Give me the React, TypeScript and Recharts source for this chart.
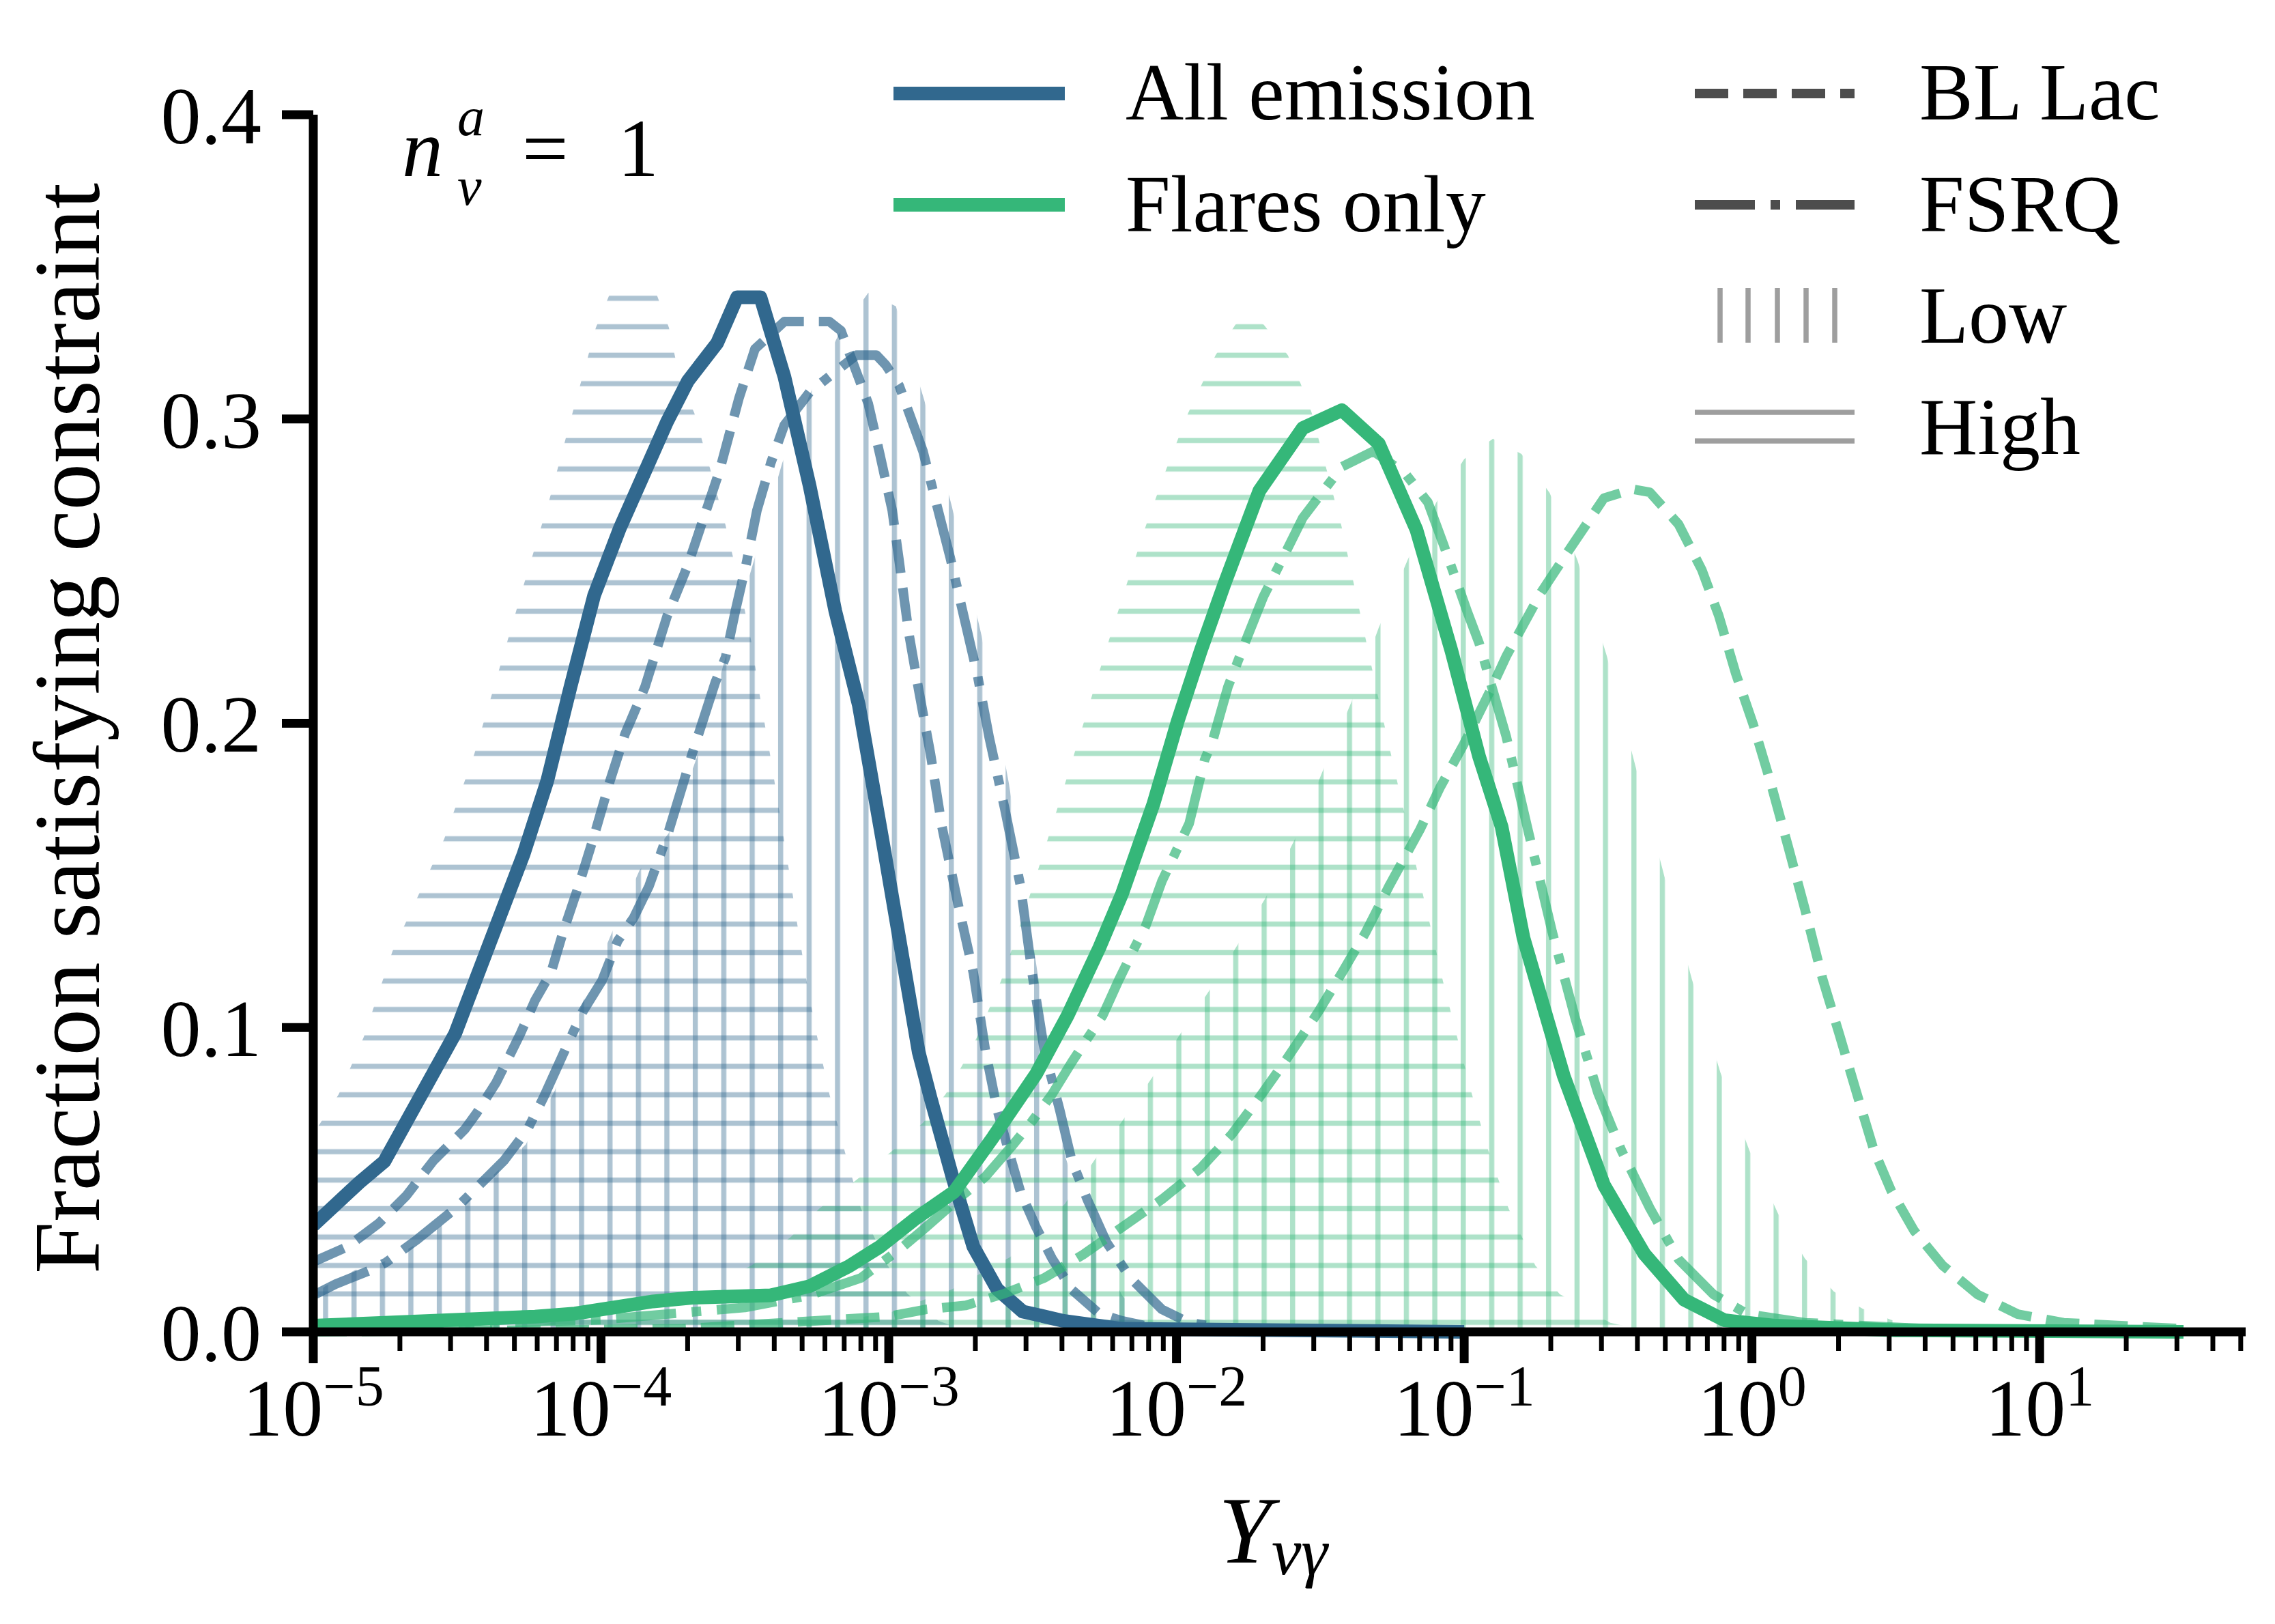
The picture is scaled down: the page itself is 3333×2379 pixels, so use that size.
import React from "react";
import { ComposedChart, Line, Area, XAxis, YAxis, Legend } from "recharts";

const FONT = '"Liberation Serif", "DejaVu Serif", serif';
const BLUE = "#31688e";
const GREEN = "#35b779";
const LEGEND_DARK = "#4d4d4d";
const LEGEND_GRAY = "#9e9e9e";

// hatch grid (px) taken from the figure
const HATCH = 41.67;
const H_OFFSET = 20.3;
const V_OFFSET = 18.6;
const HATCH_W = 7.5;

// ---- data: log10(Y_nu_gamma) positions and the fraction read at each ----

// All emission, all sources (solid blue)
const allTotalLogY = [-5, -4.841, -4.753, -4.507, -4.269, -4.187, -4.106, -4.024, -3.935, -3.771, -3.698, -3.596, -3.527, -3.446, -3.363, -3.275, -3.186, -3.104, -3.017, -2.896, -2.855, -2.779, -2.706, -2.623, -2.535, -2.393, -2.189, -1.0];
const allTotalFrac = [0.035, 0.049, 0.056, 0.098, 0.157, 0.181, 0.212, 0.242, 0.264, 0.299, 0.3125, 0.325, 0.34, 0.34, 0.314, 0.278, 0.237, 0.206, 0.159, 0.092, 0.077, 0.051, 0.028, 0.014, 0.0067, 0.0036, 0.001, 0];

// All emission, BL Lac (dashed blue)
const allBlLacLogY = [-5, -4.881, -4.772, -4.677, -4.582, -4.473, -4.433, -4.364, -4.282, -4.229, -4.174, -4.133, -4.078, -4.024, -3.969, -3.916, -3.847, -3.771, -3.698, -3.643, -3.588, -3.52, -3.465, -3.363, -3.206, -3.166, -3.071, -3.03, -2.988, -2.964, -2.931, -2.896, -2.855, -2.815, -2.76, -2.706, -2.664, -2.623, -2.582, -2.542, -2.488, -2.433, -2.364, -2.269, -2.189, -2.056, -1.0];
const allBlLacFrac = [0.023, 0.028, 0.0357, 0.0447, 0.0563, 0.0666, 0.0718, 0.082, 0.0976, 0.109, 0.118, 0.131, 0.1465, 0.163, 0.181, 0.1966, 0.212, 0.235, 0.252, 0.2675, 0.283, 0.307, 0.323, 0.332, 0.332, 0.329, 0.305, 0.288, 0.27, 0.2535, 0.23, 0.211, 0.19, 0.166, 0.141, 0.118, 0.0924, 0.073, 0.059, 0.046, 0.0344, 0.0242, 0.0139, 0.006, 0.0036, 0.001, 0];

// All emission, FSRQ (dash-dot blue)
const allFsrqLogY = [-5, -4.922, -4.801, -4.746, -4.637, -4.5, -4.433, -4.337, -4.255, -4.2, -4.12, -4.065, -3.996, -3.942, -3.887, -3.833, -3.765, -3.683, -3.603, -3.567, -3.534, -3.494, -3.458, -3.41, -3.363, -3.275, -3.166, -3.112, -3.043, -3.01, -2.964, -2.881, -2.787, -2.692, -2.651, -2.597, -2.542, -2.502, -2.459, -2.406, -2.364, -2.31, -2.243, -2.16, -2.051, -1.956, -1.82, -1.0];
const allFsrqFrac = [0.012, 0.0157, 0.0203, 0.0229, 0.0305, 0.041, 0.0473, 0.0563, 0.0666, 0.077, 0.0937, 0.105, 0.1155, 0.1285, 0.136, 0.1465, 0.1645, 0.19, 0.2134, 0.2217, 0.2365, 0.253, 0.27, 0.2855, 0.298, 0.3088, 0.317, 0.321, 0.321, 0.3177, 0.311, 0.2894, 0.2547, 0.216, 0.1954, 0.172, 0.1465, 0.118, 0.0924, 0.073, 0.0563, 0.0435, 0.0294, 0.0177, 0.0074, 0.003, 0.001, 0];

// Flares only, all sources (solid green)
const flareTotalLogY = [-5, -4.229, -4.091, -3.819, -3.683, -3.41, -3.275, -3.139, -3.03, -2.91, -2.773, -2.637, -2.488, -2.378, -2.269, -2.189, -2.08, -1.996, -1.916, -1.834, -1.712, -1.561, -1.425, -1.297, -1.166, -1.044, -0.948, -0.87, -0.794, -0.654, -0.514, -0.374, -0.235, -0.095, 0.084, 0.5, 1.5];
const flareTotalFrac = [0.002, 0.005, 0.006, 0.01, 0.0112, 0.012, 0.015, 0.0215, 0.028, 0.037, 0.046, 0.064, 0.0847, 0.104, 0.126, 0.144, 0.1735, 0.2006, 0.2237, 0.2456, 0.2764, 0.297, 0.3029, 0.2919, 0.2636, 0.2237, 0.189, 0.166, 0.1295, 0.0841, 0.0482, 0.0256, 0.0105, 0.0038, 0.002, 0.0005, 0];

// Flares only, BL Lac (dashed green)
const flareBlLacLogY = [-5, -3.717, -3.005, -2.87, -2.732, -2.597, -2.459, -2.324, -2.189, -2.051, -1.916, -1.807, -1.712, -1.616, -1.508, -1.425, -1.344, -1.261, -1.154, -1.085, -1.002, -0.908, -0.854, -0.734, -0.635, -0.514, -0.414, -0.355, -0.255, -0.174, -0.115, -0.056, 0.005, 0.065, 0.125, 0.184, 0.245, 0.305, 0.364, 0.424, 0.484, 0.564, 0.663, 0.784, 0.924, 1.083, 1.282, 1.5];
const flareBlLacFrac = [0, 0.001, 0.005, 0.0074, 0.0087, 0.0126, 0.0177, 0.0254, 0.0344, 0.0435, 0.0538, 0.065, 0.077, 0.0898, 0.105, 0.118, 0.131, 0.1465, 0.165, 0.1787, 0.193, 0.211, 0.222, 0.2428, 0.257, 0.274, 0.2769, 0.2759, 0.2654, 0.2504, 0.2353, 0.2163, 0.1995, 0.1805, 0.1598, 0.139, 0.1162, 0.0974, 0.0785, 0.0597, 0.0464, 0.0332, 0.0218, 0.0123, 0.0058, 0.003, 0.002, 0.001];

// Flares only, FSRQ (dash-dot green)
const flareFsrqLogY = [-5, -4.0, -3.5, -3.275, -3.097, -2.95, -2.87, -2.746, -2.664, -2.568, -2.502, -2.433, -2.364, -2.31, -2.256, -2.201, -2.147, -2.106, -2.051, -1.956, -1.902, -1.875, -1.821, -1.752, -1.698, -1.616, -1.561, -1.52, -1.425, -1.316, -1.206, -1.126, -1.071, -0.989, -0.948, -0.854, -0.775, -0.694, -0.614, -0.535, -0.454, -0.355, -0.255, -0.134, -0.015, 0.184, 0.6, 1.5];
const flareFsrqFrac = [0.001, 0.004, 0.008, 0.012, 0.0177, 0.028, 0.0344, 0.0447, 0.051, 0.0615, 0.0692, 0.078, 0.0886, 0.0963, 0.104, 0.1155, 0.126, 0.1336, 0.148, 0.167, 0.188, 0.194, 0.212, 0.2288, 0.2416, 0.257, 0.2675, 0.2726, 0.2843, 0.2894, 0.2822, 0.2726, 0.2585, 0.2366, 0.2263, 0.1957, 0.1636, 0.1314, 0.103, 0.0785, 0.0597, 0.0407, 0.0238, 0.0123, 0.0058, 0.003, 0.001, 0];

// All emission, high (horizontal hatch, blue)
const allHighLogY = [-5, -4.912, -4.824, -4.725, -4.637, -4.545, -4.44, -4.353, -4.267, -4.178, -4.099, -4.044, -4.018, -3.97, -3.807, -3.764, -3.724, -3.676, -3.622, -3.567, -3.52, -3.479, -3.448, -3.413, -3.381, -3.349, -3.318, -3.285, -3.249, -3.206, -3.152, -3.097, -3.005, -2.936, -2.827, -2.72];
const allHighFrac = [0.065, 0.078, 0.097, 0.125, 0.143, 0.162, 0.19, 0.218, 0.246, 0.274, 0.302, 0.321, 0.33, 0.341, 0.341, 0.33, 0.312, 0.302, 0.284, 0.265, 0.246, 0.2275, 0.209, 0.19, 0.1715, 0.153, 0.134, 0.115, 0.097, 0.078, 0.059, 0.0406, 0.022, 0.0126, 0.0036, 0];

// All emission, low (vertical hatch, blue)
const allLowLogY = [-5, -4.957, -4.855, -4.759, -4.657, -4.561, -4.459, -4.364, -4.262, -4.16, -4.065, -3.963, -3.866, -3.765, -3.667, -3.567, -3.47, -3.37, -3.275, -3.173, -3.071, -2.975, -2.876, -2.78, -2.677, -2.582, -2.483, -2.388, -2.288, -2.189, -2.08];
const allLowFrac = [0.012, 0.0151, 0.0203, 0.0229, 0.028, 0.0344, 0.0435, 0.0525, 0.0615, 0.0794, 0.108, 0.131, 0.1517, 0.1638, 0.1887, 0.2217, 0.253, 0.2856, 0.308, 0.328, 0.3415, 0.337, 0.306, 0.271, 0.2286, 0.18, 0.118, 0.058, 0.03, 0.012, 0];

// Flares only, high (horizontal hatch, green)
const flareHighLogY = [-4.31, -4.172, -3.669, -3.477, -3.342, -3.24, -3.114, -2.991, -2.881, -2.803, -2.746, -2.694, -2.61, -2.542, -2.478, -2.416, -2.355, -2.294, -2.234, -2.172, -2.106, -2.035, -1.959, -1.864, -1.795, -1.747, -1.697, -1.613, -1.568, -1.53, -1.479, -1.427, -1.384, -1.342, -1.3, -1.255, -1.21, -1.166, -1.119, -1.074, -1.024, -0.973, -0.915, -0.846, -0.753, -0.668, -0.492, -0.35];
const flareHighFrac = [0, 0.003, 0.0124, 0.0218, 0.031, 0.0406, 0.0498, 0.0592, 0.0687, 0.078, 0.0873, 0.0967, 0.1153, 0.134, 0.1527, 0.1714, 0.19, 0.209, 0.2275, 0.246, 0.265, 0.2836, 0.302, 0.321, 0.331, 0.334, 0.331, 0.321, 0.3115, 0.302, 0.2836, 0.265, 0.246, 0.2275, 0.209, 0.19, 0.1714, 0.1527, 0.134, 0.1153, 0.0967, 0.078, 0.0592, 0.0406, 0.0218, 0.0124, 0.003, 0];

// Flares only, low (vertical hatch, green)
const flareLowLogY = [-3.479, -3.005, -2.779, -2.579, -2.388, -2.284, -2.189, -2.085, -1.989, -1.887, -1.789, -1.69, -1.588, -1.494, -1.392, -1.297, -1.195, -1.097, -1.0, -0.9, -0.801, -0.703, -0.606, -0.504, -0.405, -0.305, -0.209, -0.109, -0.009, 0.091, 0.184, 0.284, 0.384, 0.484, 0.625, 0.75];
const flareLowFrac = [0, 0.006, 0.014, 0.0245, 0.042, 0.0566, 0.0692, 0.0835, 0.0976, 0.112, 0.127, 0.1427, 0.162, 0.1838, 0.207, 0.2314, 0.254, 0.2726, 0.2868, 0.2935, 0.2885, 0.2757, 0.2535, 0.222, 0.186, 0.15, 0.116, 0.0851, 0.0597, 0.0388, 0.0241, 0.0133, 0.0076, 0.0039, 0.001, 0];

// axis ticks
const yTicks = [0, 0.1, 0.2, 0.3, 0.4];
const decadeExponents = [-5, -4, -3, -2, -1, 0, 1];
const minorMultipliers = [2, 3, 4, 5, 6, 7, 8, 9];
const X_MIN = 1e-5;
const X_MAX = 52;

const toPoints = (logs: number[], fracs: number[]) =>
  logs.map((l, i) => ({ x: Math.pow(10, l), y: fracs[i] }));

const majorTicks = decadeExponents.map((e) => Math.pow(10, e));
const minorTicks: number[] = [];
decadeExponents.forEach((e) => {
  minorMultipliers.forEach((m) => {
    const v = m * Math.pow(10, e);
    if (v <= X_MAX) minorTicks.push(v);
  });
});
const xTicks = [...majorTicks, ...minorTicks].sort((a, b) => a - b);

const isMajor = (v: number) => {
  const l = Math.log10(v);
  return Math.abs(l - Math.round(l)) < 1e-6;
};

const XTick = (props: any) => {
  const { x, y, payload } = props;
  const v = payload.value as number;
  const major = isMajor(v);
  const exp = Math.round(Math.log10(v));
  return (
    <g>
      <line
        x1={x}
        x2={x}
        y1={y}
        y2={y + (major ? 46 : 28)}
        stroke="#000"
        strokeWidth={major ? 13 : 7}
      />
      {major && (
        <text x={x} y={y + 152} textAnchor="middle" fontSize={118} fontFamily={FONT} fill="#000">
          10
          <tspan dy={-44} fontSize={84}>
            {exp < 0 ? "\u2212" + Math.abs(exp) : String(exp)}
          </tspan>
        </text>
      )}
    </g>
  );
};

const DASHED = "49 22";
const DASH_DOT = "88 23 14 23";

const lines = [
  { id: "allBl", data: toPoints(allBlLacLogY, allBlLacFrac), color: BLUE, width: 14, opacity: 0.7, dash: DASHED },
  { id: "allFsrq", data: toPoints(allFsrqLogY, allFsrqFrac), color: BLUE, width: 14, opacity: 0.7, dash: DASH_DOT },
  { id: "allTotal", data: toPoints(allTotalLogY, allTotalFrac), color: BLUE, width: 20, opacity: 1, dash: undefined },
  { id: "flareBl", data: toPoints(flareBlLacLogY, flareBlLacFrac), color: GREEN, width: 14, opacity: 0.7, dash: DASHED },
  { id: "flareFsrq", data: toPoints(flareFsrqLogY, flareFsrqFrac), color: GREEN, width: 14, opacity: 0.7, dash: DASH_DOT },
  { id: "flareTotal", data: toPoints(flareTotalLogY, flareTotalFrac), color: GREEN, width: 20, opacity: 1, dash: undefined },
];

const areas = [
  { id: "allHigh", data: toPoints(allHighLogY, allHighFrac), fill: "url(#hatchBlueHigh)" },
  { id: "allLow", data: toPoints(allLowLogY, allLowFrac), fill: "url(#hatchBlueLow)" },
  { id: "flareHigh", data: toPoints(flareHighLogY, flareHighFrac), fill: "url(#hatchGreenHigh)" },
  { id: "flareLow", data: toPoints(flareLowLogY, flareLowFrac), fill: "url(#hatchGreenLow)" },
];

const LegendGraphic = () => (
  <svg width={3333} height={720} style={{ position: "absolute", left: 0, top: 0 }}>
    <line x1={1309} x2={1560} y1={137} y2={137} stroke={BLUE} strokeWidth={20} />
    <line x1={1309} x2={1560} y1={300} y2={300} stroke={GREEN} strokeWidth={20} />
    <text x={1649} y={175} fontSize={118} fontFamily={FONT}>All emission</text>
    <text x={1649} y={339} fontSize={118} fontFamily={FONT}>Flares only</text>

    <line x1={2483} x2={2717} y1={137} y2={137} stroke={LEGEND_DARK} strokeWidth={14} strokeDasharray={DASHED} />
    <line x1={2483} x2={2717} y1={300} y2={300} stroke={LEGEND_DARK} strokeWidth={14} strokeDasharray={DASH_DOT} />
    {[2520, 2561, 2604, 2646, 2688].map((lx) => (
      <line key={lx} x1={lx} x2={lx} y1={422} y2={502} stroke={LEGEND_GRAY} strokeWidth={HATCH_W} />
    ))}
    <line x1={2483} x2={2717} y1={604} y2={604} stroke={LEGEND_GRAY} strokeWidth={HATCH_W} />
    <line x1={2483} x2={2717} y1={646} y2={646} stroke={LEGEND_GRAY} strokeWidth={HATCH_W} />
    <text x={2812} y={175} fontSize={118} fontFamily={FONT}>BL Lac</text>
    <text x={2812} y={339} fontSize={118} fontFamily={FONT}>FSRQ</text>
    <text x={2812} y={502} fontSize={118} fontFamily={FONT}>Low</text>
    <text x={2812} y={665} fontSize={118} fontFamily={FONT}>High</text>
  </svg>
);

export default function App() {
  return (
    <div style={{ position: "absolute", left: 0, top: 0, width: 3333, height: 2379, background: "#fff" }}>
      <ComposedChart width={3333} height={2379} margin={{ top: 168, right: 43, left: 0, bottom: 0 }}>
        <defs>
          <pattern id="hatchBlueHigh" patternUnits="userSpaceOnUse" x={0} y={0} width={3333} height={HATCH}>
            <rect x={0} y={H_OFFSET - HATCH_W / 2} width={3333} height={HATCH_W} fill={BLUE} fillOpacity={0.4} />
          </pattern>
          <pattern id="hatchGreenHigh" patternUnits="userSpaceOnUse" x={0} y={0} width={3333} height={HATCH}>
            <rect x={0} y={H_OFFSET - HATCH_W / 2} width={3333} height={HATCH_W} fill={GREEN} fillOpacity={0.4} />
          </pattern>
          <pattern id="hatchBlueLow" patternUnits="userSpaceOnUse" x={0} y={0} width={HATCH} height={2379}>
            <rect x={V_OFFSET - HATCH_W / 2} y={0} width={HATCH_W} height={2379} fill={BLUE} fillOpacity={0.4} />
          </pattern>
          <pattern id="hatchGreenLow" patternUnits="userSpaceOnUse" x={0} y={0} width={HATCH} height={2379}>
            <rect x={V_OFFSET - HATCH_W / 2} y={0} width={HATCH_W} height={2379} fill={GREEN} fillOpacity={0.4} />
          </pattern>
        </defs>
        <XAxis
          dataKey="x"
          type="number"
          scale="log"
          domain={[X_MIN, X_MAX]}
          allowDataOverflow
          ticks={xTicks}
          interval={0}
          tick={(p: any) => <XTick {...p} />}
          tickLine={false}
          tickSize={0}
          tickMargin={0}
          axisLine={{ stroke: "#000", strokeWidth: 13 }}
          height={428}
        />
        <YAxis
          type="number"
          domain={[0, 0.4]}
          ticks={yTicks}
          interval={0}
          tickFormatter={(v: number) => v.toFixed(1)}
          width={459}
          tickSize={46}
          tickMargin={30}
          axisLine={{ stroke: "#000", strokeWidth: 13 }}
          tickLine={{ stroke: "#000", strokeWidth: 13 }}
          tick={{ fontSize: 118, fill: "#000", fontFamily: FONT }}
        />
        {areas.map((a) => (
          <Area
            key={a.id}
            data={a.data}
            dataKey="y"
            type="linear"
            stroke="none"
            fill={a.fill}
            fillOpacity={1}
            dot={false}
            activeDot={false}
            isAnimationActive={false}
          />
        ))}
        {lines.map((l) => (
          <Line
            key={l.id}
            data={l.data}
            dataKey="y"
            type="linear"
            stroke={l.color}
            strokeOpacity={l.opacity}
            strokeWidth={l.width}
            strokeDasharray={l.dash}
            strokeLinejoin="round"
            dot={false}
            activeDot={false}
            isAnimationActive={false}
          />
        ))}
        <Legend
          layout="vertical"
          align="center"
          verticalAlign="middle"
          content={() => <LegendGraphic />}
          wrapperStyle={{ position: "absolute", left: 0, top: 0, width: 3333, height: 720, pointerEvents: "none" }}
        />
        <text x={145} y={1067} transform="rotate(-90 145 1067)" textAnchor="middle" fontSize={137} fontFamily={FONT} fill="#000">
          Fraction satisfying constraint
        </text>
        <text x={1785} y={2289} fontSize={140} fontStyle="italic" fontFamily={FONT} fill="#000">
          Y<tspan dy={17} fontSize={98}>{"\u03bd\u03b3"}</tspan>
        </text>
        <text x={589} y={258} fontSize={120} fontStyle="italic" fontFamily={FONT} fill="#000">
          n
          <tspan x={670} y={300} fontSize={80}>{"\u03bd"}</tspan>
          <tspan x={670} y={198} fontSize={80}>a</tspan>
          <tspan x={765} y={258} fontStyle="normal">=</tspan>
          <tspan x={905} y={258} fontStyle="normal">1</tspan>
        </text>
      </ComposedChart>
    </div>
  );
}
